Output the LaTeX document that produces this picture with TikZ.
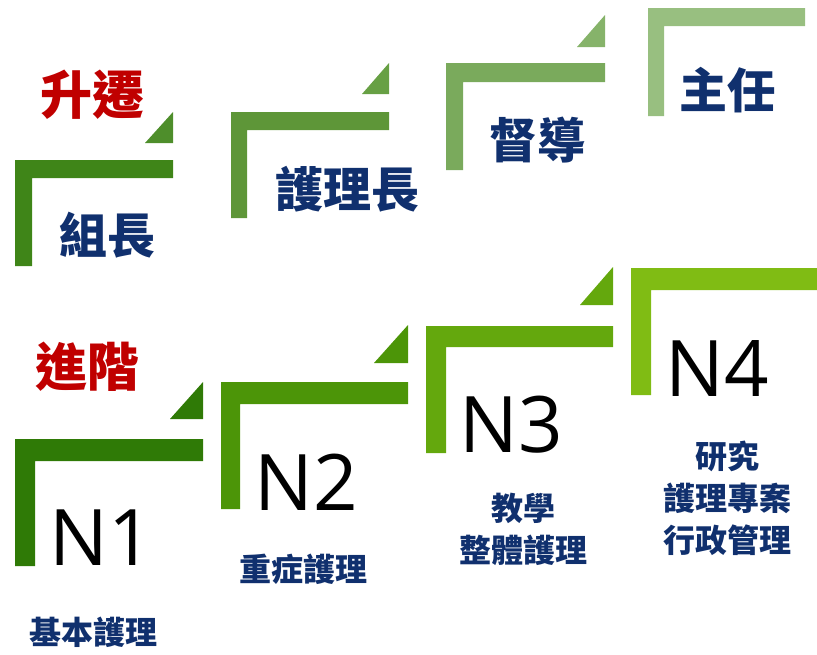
\documentclass[tikz,border=0pt]{standalone}
\usepackage{fontspec}
\newfontfamily\cjk{Noto Sans CJK TC}
\newfontfamily\latn{Open Sans}
\definecolor{cA}{HTML}{3F8518}
\definecolor{cAt}{HTML}{4E8E2B}
\definecolor{cB}{HTML}{5E9638}
\definecolor{cBt}{HTML}{67A044}
\definecolor{cC}{HTML}{7AAA5C}
\definecolor{cCt}{HTML}{86B36A}
\definecolor{cD}{HTML}{98BF80}
\definecolor{dA}{HTML}{2F7A06}
\definecolor{dB}{HTML}{4C9508}
\definecolor{dC}{HTML}{64A80D}
\definecolor{dD}{HTML}{80BC14}
\definecolor{navy}{HTML}{10306E}
\definecolor{rd}{HTML}{C00000}
\newcommand\stairL[7]{%
  \fill[#7] (#1,#2) -- (#3,#2) -- (#3,#2+#4) -- (#1+#5,#2+#4) -- (#1+#5,#6) -- (#1,#6) -- cycle;}
\newcommand\stairT[5]{%
  \fill[#5] (#1,#3) -- (#2,#4) -- (#2,#3) -- cycle;}
\tikzset{
  headtext/.style={font=\cjk\bfseries\fontsize{52}{56}\selectfont, text=rd, inner sep=0pt},
  rank/.style={font=\cjk\bfseries\fontsize{48}{52}\selectfont, text=navy, inner sep=0pt},
  lvl/.style={font=\latn\fontsize{78}{80}\selectfont, text=black, inner sep=0pt},
  desc/.style={font=\cjk\bfseries\fontsize{32}{42}\selectfont, text=navy, inner sep=0pt, align=center}
}
\begin{document}
\begin{tikzpicture}[x=1pt,y=-1pt]
\useasboundingbox (0,0) rectangle (817,654);
% upper row
\stairL{15}{160}{173}{18}{17}{266}{cA}
\stairT{145}{173}{143}{112}{cAt}
\stairL{231}{112}{389}{18}{16}{218}{cB}
\stairT{362}{389}{94}{63}{cBt}
\stairL{446}{63}{605}{19}{17}{170}{cC}
\stairT{577}{605}{47}{15}{cCt}
\stairL{648}{8}{805}{18}{16}{116}{cD}
% lower row
\stairL{15}{439}{203}{22}{20}{566}{dA}
\stairT{170}{203}{419}{382}{dA}
\stairL{221}{382}{408}{22}{19}{509}{dB}
\stairT{374}{408}{363}{325}{dB}
\stairL{426}{326}{613}{21}{20}{453}{dC}
\stairT{580}{613}{305}{267}{dC}
\stairL{631}{268}{817}{22}{20}{395}{dD}
% texts
\node[headtext] (sq) at (92,95) {升遷};
\node[rank] (zz) at (107,235) {組長};
\node[rank] (hl) at (347,189) {護理長};
\node[rank] (dd) at (537,140) {督導};
\node[rank] (zr) at (727,90) {主任};
\node[headtext] (jj) at (87,367) {進階};
\node[lvl] (n1) at (101,538) {N1};
\node[lvl] (n2) at (306,482) {N2};
\node[lvl] (n3) at (511,425) {N3};
\node[lvl] (n4) at (717,368) {N4};
\node[desc] (d1) at (94,632) {基本護理};
\node[desc] (d2) at (303,569) {重症護理};
\node[desc] (d3) at (523,529) {教學\\整體護理};
\node[desc] (d4) at (727,498) {研究\\護理專案\\行政管理};
\end{tikzpicture}
\end{document}
